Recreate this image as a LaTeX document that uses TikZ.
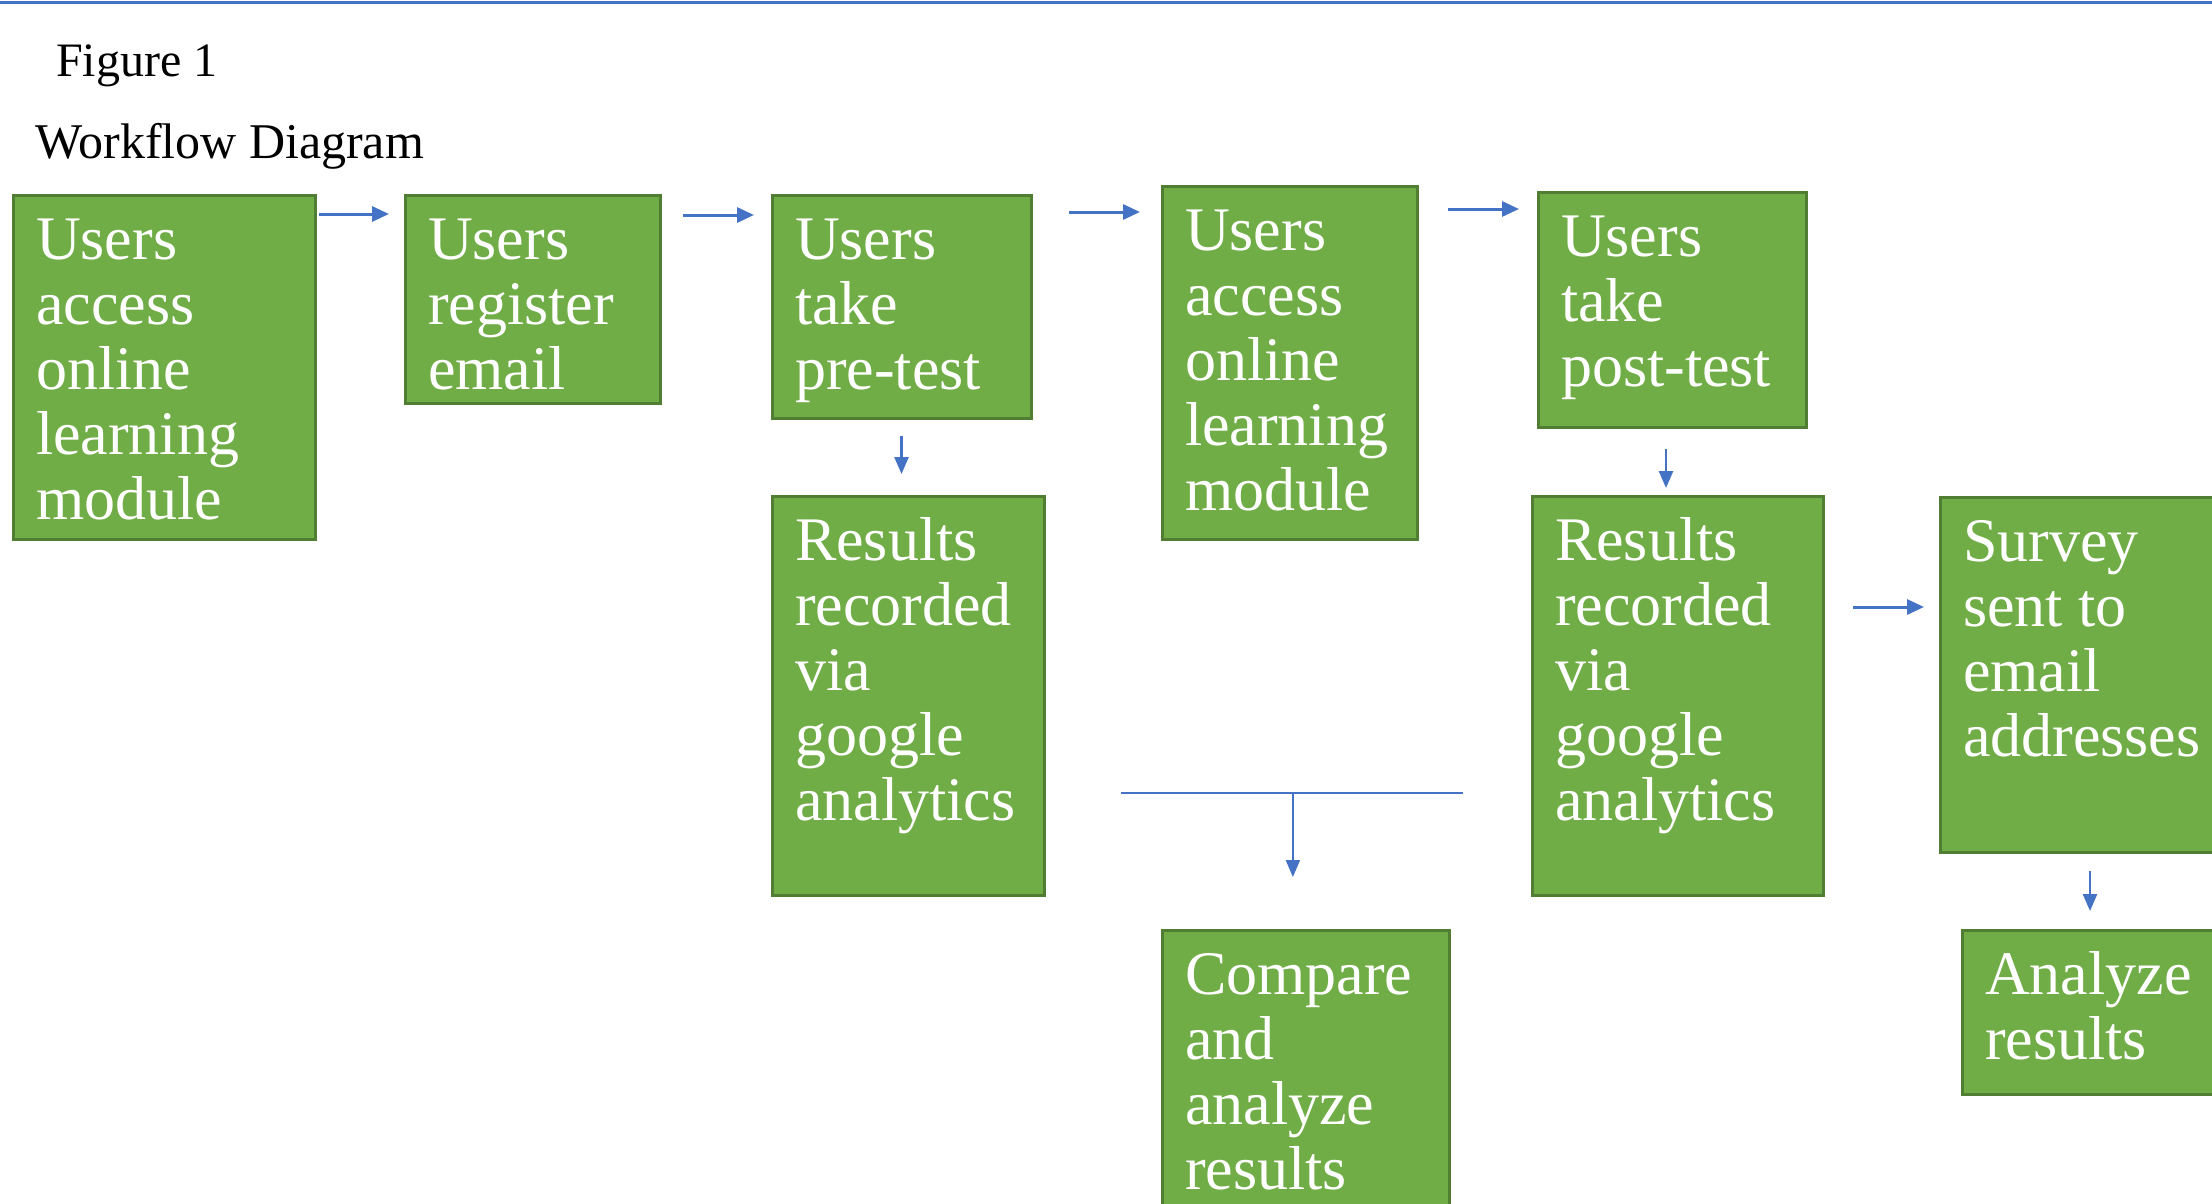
\documentclass[tikz,border=0pt]{standalone}
\usepackage{fontspec}
\setmainfont{Liberation Serif}
\usetikzlibrary{arrows.meta}
\definecolor{boxgreen}{HTML}{70AD47}
\definecolor{boxedge}{HTML}{507E32}
\definecolor{linkblue}{HTML}{4472C4}
\tikzset{
  gbox/.style={draw=boxedge, fill=boxgreen, line width=3pt, anchor=north west,
    inner xsep=23pt, inner ysep=0pt, outer sep=0pt, text=white,
    font=\fontsize{62}{65}\selectfont},
  arr/.style={draw=linkblue, line width=3pt, -{Triangle[length=17pt,width=15pt]}},
  downarr/.style={draw=linkblue, line width=2.5pt, -{Triangle[length=17pt,width=14pt]}},
  thinlink/.style={draw=linkblue, line width=2pt},
  caption/.style={anchor=base west, inner sep=0pt, font=\fontsize{48}{52}\selectfont}
}
\newcommand\flowbox[6]{%
  \node[gbox, minimum width=#4pt, minimum height=#5pt] (#1) at (#2,-#3)
    {\parbox[c][#5pt][t]{\dimexpr#4pt-46pt\relax}{\raggedright\rule{0pt}{64pt}#6}};}
\begin{document}
\begin{tikzpicture}[x=1pt,y=1pt]
\useasboundingbox (0,0) rectangle (2212,-1204);
\clip (0,0) rectangle (2212,-1204);
\fill[white] (0,0) rectangle (2212,-1204);
\draw[linkblue, line width=3pt] (0,-2.5) -- (2212,-2.5);
\node[caption] (fig) at (56,-77) {Figure 1};
\node[caption, font=\fontsize{50}{54}\selectfont] (title) at (35,-159) {Workflow Diagram};

\flowbox{b1}{13}{195}{302}{344}{Users\\access\\online\\learning\\module}
\flowbox{b2}{405}{195}{255}{208}{Users\\register\\email}
\flowbox{b3}{772}{195}{259}{223}{Users\\take\\pre-test}
\flowbox{b4}{1162}{186}{255}{353}{Users\\access\\online\\learning\\module}
\flowbox{b5}{1538}{192}{268}{235}{Users\\take\\post-test}
\flowbox{r1}{772}{496}{272}{399}{Results\\recorded\\via\\google\\analytics}
\flowbox{r2}{1532}{496}{291}{399}{Results\\recorded\\via\\google\\analytics}
\flowbox{sv}{1940}{497}{300}{355}{Survey\\sent to\\email\\addresses}
\flowbox{cmp}{1162}{930}{287}{320}{Compare\\and\\analyze\\results}
\flowbox{an}{1962}{930}{280}{164}{Analyze\\results}

\draw[arr, shorten <=4pt, shorten >=16pt] ([yshift=-19pt]b1.north east) -- ([yshift=-19pt]b2.north west);
\draw[arr, shorten <=23pt, shorten >=18pt] ([yshift=-20pt]b2.north east) -- ([yshift=-20pt]b3.north west);
\draw[arr, shorten <=38pt, shorten >=22pt] ([yshift=-17pt]b3.north east) -- ([yshift=-26pt]b4.north west);
\draw[arr, shorten <=31pt, shorten >=19pt] ([yshift=-23pt]b4.north east) -- ([yshift=-17pt]b5.north west);
\draw[downarr, shorten <=18pt, shorten >=22pt] (b3.south) -- (b3.south |- r1.north);
\draw[downarr, shorten <=22pt, shorten >=8pt] ([xshift=-6pt]b5.south) -- ([xshift=-6pt]b5.south |- r2.north);
\draw[arr, shorten <=30pt, shorten >=16pt] ([yshift=-111pt]r2.north east) -- ([yshift=-110pt]sv.north west);
\draw[downarr, shorten <=19pt, shorten >=19pt] (sv.south) -- (sv.south |- an.north);
\draw[thinlink, shorten <=77pt, shorten >=69pt] ([yshift=-297pt]r1.north east) -- ([yshift=-297pt]r2.north west);
\path ([yshift=-297pt]r1.north east) -- ([yshift=-297pt]r2.north west) coordinate[pos=0.51] (tj);
\draw[downarr, line width=2pt, shorten >=53pt] (tj) -- (tj |- cmp.north);
\end{tikzpicture}
\end{document}
